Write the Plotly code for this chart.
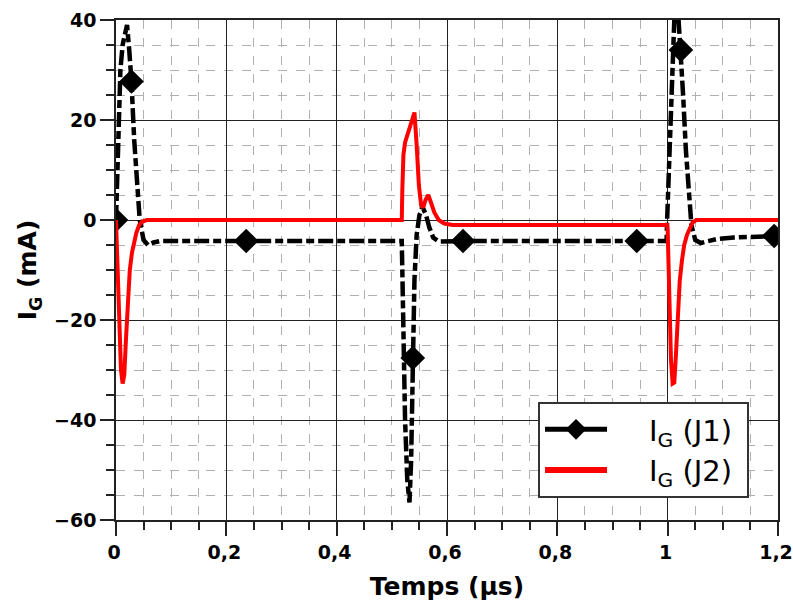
import plotly.graph_objects as go

# ---- data ----
t_j1 = [0.000, 0.004, 0.008, 0.012, 0.016, 0.020, 0.024, 0.028, 0.033, 0.038, 0.043,
        0.050, 0.058, 0.068, 0.080, 0.120, 0.200, 0.236, 0.400, 0.518,
        0.519, 0.521, 0.524, 0.528, 0.532, 0.535, 0.538, 0.541, 0.545, 0.550,
        0.556, 0.562, 0.568, 0.575, 0.585, 0.600, 0.629, 0.800, 0.944, 0.998,
        0.999, 1.003, 1.008, 1.013, 1.017, 1.020, 1.024, 1.028, 1.033, 1.038,
        1.043, 1.050, 1.060, 1.070, 1.090, 1.120, 1.160, 1.193, 1.200]
i_j1 = [0.0, 15.0, 30.0, 35.0, 37.0, 39.0, 34.0, 27.7, 16.0, 6.0, 0.0,
        -4.0, -5.0, -4.5, -4.2, -4.2, -4.2, -4.2, -4.2, -4.2,
        -10.0, -25.0, -40.0, -52.0, -56.5, -48.0, -27.6, -12.0, -3.0, 1.0,
        2.5, 1.0, -1.5, -3.5, -4.3, -4.2, -4.2, -4.2, -4.2, -4.2,
        0.0, 15.0, 32.0, 43.0, 45.0, 40.0, 34.0, 25.0, 14.0, 5.0,
        -1.0, -4.0, -4.6, -4.3, -3.8, -3.5, -3.3, -3.2, -3.2]

t_j1_markers = [0.000, 0.028, 0.236, 0.538, 0.629, 0.944, 1.024, 1.193]
i_j1_markers = [0.0, 27.7, -4.2, -27.6, -4.2, -4.2, 34.0, -3.2]

t_j2 = [0.000, 0.003, 0.006, 0.009, 0.012, 0.015, 0.018, 0.021, 0.025, 0.029,
        0.033, 0.037, 0.042, 0.048, 0.056, 0.200, 0.518,
        0.519, 0.521, 0.524, 0.530, 0.536, 0.541, 0.545, 0.549, 0.553, 0.557,
        0.561, 0.566, 0.571, 0.577, 0.585, 0.595, 0.610, 0.800, 0.999,
        1.000, 1.003, 1.006, 1.009, 1.012, 1.015, 1.018, 1.022, 1.026, 1.030,
        1.035, 1.040, 1.045, 1.052, 1.200]
i_j2 = [0.0, -10.0, -22.0, -30.0, -32.7, -31.0, -24.0, -16.0, -10.0, -6.5,
        -4.0, -2.5, -1.0, -0.3, 0.0, 0.0, 0.0,
        6.0, 13.0, 15.5, 17.5, 19.5, 21.5, 15.0, 7.0, 3.0, 2.5,
        4.0, 5.0, 3.5, 1.5, 0.0, -0.7, -1.0, -1.0, -1.0,
        -2.0, -15.0, -28.0, -32.7, -32.5, -27.0, -19.0, -12.0, -8.0, -5.0,
        -3.0, -1.5, -0.5, 0.0, 0.0]

x_ticks = [0, 0.2, 0.4, 0.6, 0.8, 1.0, 1.2]
y_ticks = [-60, -40, -20, 0, 20, 40]
pad = "\u00a0\u00a0\u00a0\u00a0"
name_j1 = pad + "I<sub>G</sub> (J1)\u00a0"
name_j2 = pad + "I<sub>G</sub> (J2)\u00a0"

fig = go.Figure()

fig.add_trace(go.Scatter(x=t_j1, y=i_j1, mode="lines", showlegend=False,
                         line=dict(color="black", width=4.5, dash="15px,4px,8px,4px")))
fig.add_trace(go.Scatter(x=t_j1_markers, y=i_j1_markers, mode="markers", showlegend=False,
                         marker=dict(symbol="diamond", size=19, color="black")))
fig.add_trace(go.Scatter(x=t_j2, y=i_j2, mode="lines", showlegend=False,
                         line=dict(color="#ff0000", width=4)))

# legend entries
fig.add_trace(go.Scatter(x=[None], y=[None], mode="lines+markers", name=name_j1,
                         line=dict(color="black", width=5),
                         marker=dict(symbol="diamond", size=18, color="black")))
fig.add_trace(go.Scatter(x=[None], y=[None], mode="lines", name=name_j2,
                         line=dict(color="#ff0000", width=6)))

axis_font = dict(family="DejaVu Sans", size=19, color="black", weight="bold")
title_font = dict(family="DejaVu Sans", size=25, color="black", weight="bold")

fig.update_xaxes(range=[0, 1.2], tickvals=x_ticks, ticks="outside", ticklen=14,
                 tickwidth=1.5, tickcolor="#222", showline=True, linecolor="#222",
                 linewidth=1.5, mirror=True, showgrid=True, gridcolor="#222",
                 gridwidth=1, zeroline=False, tickfont=axis_font, ticklabelshift=-2,
                 title=dict(text="Temps (µs)", font=title_font, standoff=16),
                 minor=dict(dtick=0.05, ticks="outside", ticklen=8, tickcolor="#222",
                            showgrid=True, gridcolor="#b0b0b0", griddash="dash",
                            gridwidth=1))
fig.update_yaxes(range=[-60, 40], tickvals=y_ticks, ticks="outside", ticklen=14,
                 tickwidth=1.5, tickcolor="#222", showline=True, linecolor="#222",
                 linewidth=1.5, mirror=True, showgrid=True, gridcolor="#222",
                 gridwidth=1, zeroline=False, tickfont=axis_font,
                 title=dict(text="I<sub>G</sub> (mA)", font=title_font, standoff=10),
                 minor=dict(dtick=5, ticks="outside", ticklen=8, tickcolor="#222",
                            showgrid=True, gridcolor="#b0b0b0", griddash="dash",
                            gridwidth=1))

fig.update_layout(
    width=793, height=607,
    margin=dict(l=116, r=15, t=20, b=87, autoexpand=False),
    paper_bgcolor="white", plot_bgcolor="white",
    separators=", ",
    legend=dict(x=0.6375, y=0.236, xanchor="left", yanchor="top",
                bgcolor="white", bordercolor="#333", borderwidth=2,
                font=dict(family="DejaVu Sans", size=29, color="black"),
                itemwidth=62, tracegroupgap=4),
)

fig.write_html("out.html",
               config={"displayModeBar": False},
               post_script="document.body.style.margin='0';"
                           "document.body.style.overflow='hidden';")
